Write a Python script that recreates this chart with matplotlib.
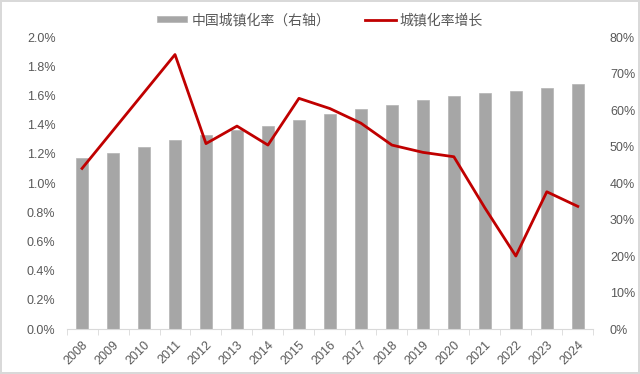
import matplotlib
matplotlib.use("Agg")
import matplotlib.pyplot as plt
from matplotlib.patches import Patch
from matplotlib.lines import Line2D
from matplotlib.ticker import FuncFormatter, MultipleLocator
import numpy as np

plt.rcParams['font.family'] = ['Liberation Sans', 'Noto Sans CJK SC', 'DejaVu Sans']

years = ['2008', '2009', '2010', '2011', '2012', '2013', '2014', '2015', '2016',
         '2017', '2018', '2019', '2020', '2021', '2022', '2023', '2024']
urban_rate = [46.99, 48.34, 49.95, 51.83, 53.10, 54.49, 55.75, 57.33, 58.84,
              60.24, 61.50, 62.71, 63.89, 64.72, 65.22, 66.16, 67.00]
urban_growth = [1.10, 1.36, 1.62, 1.88, 1.27, 1.39, 1.26, 1.58, 1.51,
                1.41, 1.26, 1.21, 1.18, 0.83, 0.50, 0.94, 0.84]
bar_label = '中国城镇化率（右轴）'
line_label = '城镇化率增长'

txt = '#595959'
axc = '#d9d9d9'
fig = plt.figure(figsize=(6.4, 3.74), dpi=100)
fig.patch.set_edgecolor(axc)
fig.patch.set_linewidth(1.5)
ax = fig.add_axes([0.104, 0.1203, 0.823, 0.7807])
ax2 = ax.twinx()

x = np.arange(len(years))
ax2.bar(x, urban_rate, width=0.37, color='#a6a6a6', edgecolor='#b3b3b3', linewidth=0.5, zorder=1)
ax.plot(x, urban_growth, color='#c00000', linewidth=2.0, zorder=3)

ax.set_zorder(ax2.get_zorder() + 1)
ax.patch.set_visible(False)

ax.set_xlim(-0.5, len(years) - 0.5)
ax.set_ylim(0, 2.0)
ax2.set_ylim(0, 80)
ax.yaxis.set_major_locator(MultipleLocator(0.2))
ax2.yaxis.set_major_locator(MultipleLocator(10))
ax.yaxis.set_major_formatter(FuncFormatter(lambda v, p: f'{v:.1f}%'))
ax2.yaxis.set_major_formatter(FuncFormatter(lambda v, p: f'{v:.0f}%'))

ax.set_xticks(x)
ax.set_xticklabels(years, rotation=45, ha='right', rotation_mode='anchor')
ax.set_xticks(np.arange(-0.5, len(years), 1), minor=True)
ax.tick_params(axis='x', which='major', length=0, labelsize=9, colors=txt, pad=7)
ax.tick_params(axis='x', which='minor', length=4, color=axc, direction='out')
ax.tick_params(axis='y', length=0, labelsize=9, colors=txt, pad=8)
ax2.tick_params(axis='y', length=0, labelsize=9, colors=txt, pad=12)

for a in (ax, ax2):
    for s in ('top', 'left', 'right'):
        a.spines[s].set_visible(False)
    a.spines['bottom'].set_color(axc)
ax2.spines['bottom'].set_visible(False)

handles = [Patch(facecolor='#a6a6a6', edgecolor='#b3b3b3', linewidth=0.5),
           Line2D([0], [0], color='#c00000', linewidth=2.0)]
fig.legend(handles, [bar_label, line_label], loc='upper center', bbox_to_anchor=(0.5, 0.995),
           ncol=2, frameon=False, fontsize=10, labelcolor=txt, handlelength=2.2,
           handleheight=0.25, handletextpad=0.3, columnspacing=2.5, borderaxespad=0.4)

fig.savefig('out.png', dpi=100, edgecolor=fig.get_edgecolor())
